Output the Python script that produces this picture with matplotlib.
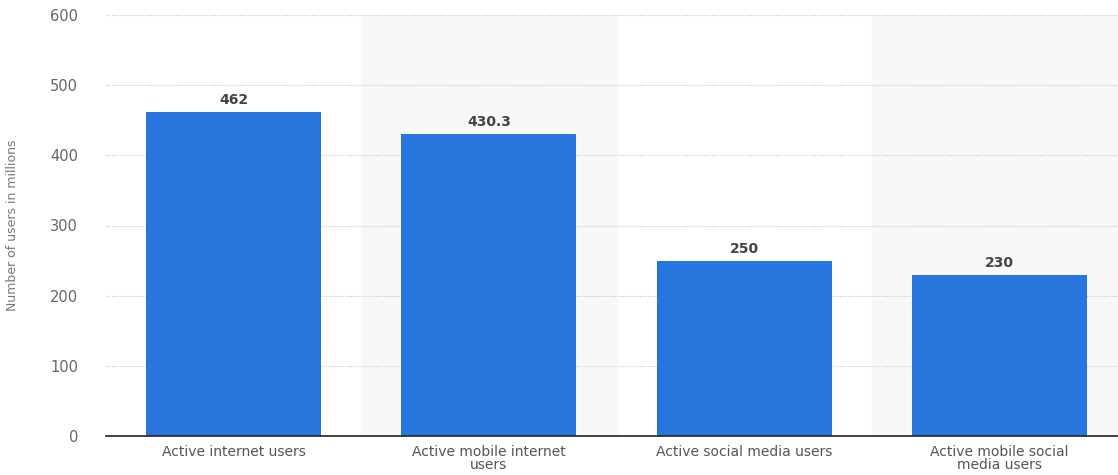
import matplotlib.pyplot as plt

categories = ["Active internet users", "Active mobile internet\nusers",
              "Active social media users", "Active mobile social\nmedia users"]
values = [462, 430.3, 250, 230]
value_labels = ["462", "430.3", "250", "230"]
y_ticks = [0, 100, 200, 300, 400, 500, 600]

fig = plt.figure(figsize=(11.18, 4.75), dpi=100)
ax = fig.add_axes([106 / 1118, 1 - 436 / 475, 1021 / 1118, 421 / 475])

x = range(len(categories))
# light bands behind every second category
for i in x:
    if i % 2 == 1:
        ax.axvspan(i - 0.5, i + 0.5, color="#f8f8f8", zorder=0)

ax.bar(x, values, width=0.686, color="#2876dd", zorder=3)

for i, v in enumerate(values):
    ax.text(i, v + 7, value_labels[i], ha="center", va="bottom",
            fontsize=10, fontweight="bold", color="#444444", family="DejaVu Sans")

ax.set_xlim(-0.5, 3.5)
ax.set_ylim(0, 600)
ax.set_yticks(y_ticks)
ax.set_yticklabels([str(t) for t in y_ticks], fontsize=10.5, color="#666666")
ax.set_xticks(list(x))
ax.set_xticklabels(categories, fontsize=10, color="#555555", linespacing=0.88)
ax.tick_params(axis="both", length=0)
ax.tick_params(axis="x", pad=6.5)
ax.tick_params(axis="y", pad=20)

ax.grid(axis="y", linestyle=(0, (1, 1.5)), color="#c4c4c4", linewidth=0.8, zorder=1)
for s in ["top", "right", "left"]:
    ax.spines[s].set_visible(False)
ax.spines["bottom"].set_color("#222222")
ax.spines["bottom"].set_linewidth(1.2)
ax.spines["bottom"].set_zorder(4)

ax.set_ylabel("Number of users in millions", fontsize=9, color="#777777",
              family="Liberation Sans Narrow")
ax.yaxis.set_label_coords(-0.085, 0.5)

fig.savefig("out.png", dpi=100)
